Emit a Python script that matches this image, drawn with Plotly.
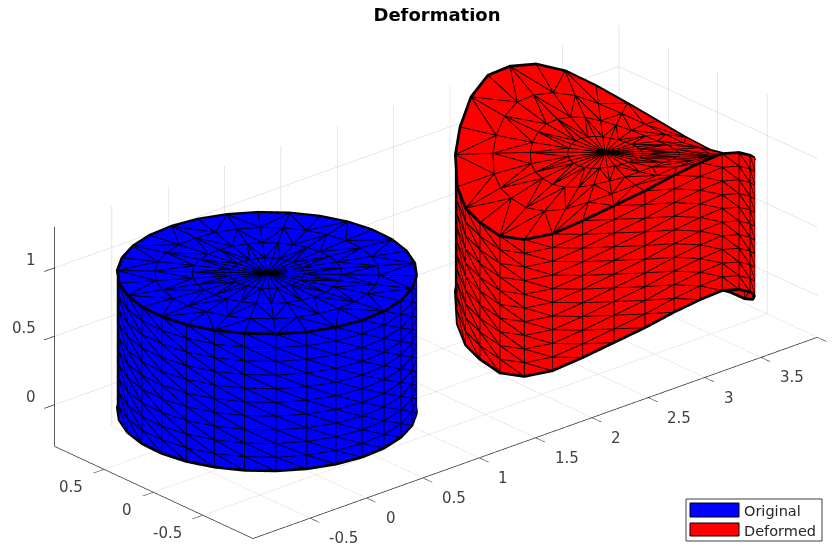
import math
import plotly.graph_objects as go

# ---- data ----
title_text = "Deformation"
legend_labels = ["Original", "Deformed"]
legend_colors = ["#0000ff", "#ff0000"]
x_ticks = [-0.5, 0, 0.5, 1, 1.5, 2, 2.5, 3, 3.5, 4]
x_tick_labels = ["-0.5", "0", "0.5", "1", "1.5", "2", "2.5", "3", "3.5", "4"]
y_ticks = [-0.5, 0, 0.5]
y_tick_labels = ["-0.5", "0", "0.5"]
z_ticks = [0, 0.5, 1]
z_tick_labels = ["0", "0.5", "1"]
x_range = [-1.0075, 4]
y_range = [-1.0085, 1]
z_range = [-0.305, 1.30]

z_levels = [0, 0.1, 0.2, 0.3, 0.4, 0.5, 0.6, 0.7, 0.8, 0.9, 1.0]
ring_radii = [0.25, 0.5, 0.75, 1.0]
side_angles_deg = [-43.8, -31.8, -19.8, -7.8, 4.2, 16.2, 28.2, 40.2, 52.2, 64.2,
                   76.2, 88.2, 100.2, 112.2, 124.2, 136.2, 148.2, 160.2, 172.2, 184.2,
                   196.2, 208.2, 220.2, 232.2, 244.2, 256.2, 268.2, 280.2, 292.2, 304.2]
# vertical displacement of the deformed body's rim, per rim vertex
rim_lift = [-0.02, -0.146, -0.23, -0.265, -0.30, -0.265, -0.186, -0.08, 0.044, 0.168,
            0.252, 0.287, 0.287, 0.208, 0.075, -0.035, -0.177, -0.243, -0.265, -0.292,
            -0.26, -0.177, -0.057, 0.057, 0.15, 0.23, 0.27, 0.27, 0.20, 0.093]
deformed_x_offset = 3.0

view_dir = (-0.602, -0.687, 0.407)
view_right = (0.752, -0.659, 0.0)
view_dist = 5.0
view_pan = -0.0076
scene_scale = 0.5676
line_lift = 0.012  # edges sit this far towards the viewer so the faces do not hide them
W, H, PAD = 852, 538, 8  # the page adds an 8 px body margin; the last "4" runs past the window edge


def body(x0, lifts):
    n = len(side_angles_deg)

    def vertex(r, k, z):
        a = math.radians(side_angles_deg[k % n])
        return (x0 + r * math.cos(a), r * math.sin(a), z + lifts[k % n] * r * r)

    X, Y, Z, I, J, K = [], [], [], [], [], []
    lx, ly, lz = [], [], []
    rx, ry, rz = [], [], []
    lift = [d * line_lift for d in view_dir]

    def add(x, y, z):
        X.append(x); Y.append(y); Z.append(z)
        return len(X) - 1

    def seg(a, b):
        lx.extend([X[a] + lift[0], X[b] + lift[0], None])
        ly.extend([Y[a] + lift[1], Y[b] + lift[1], None])
        lz.extend([Z[a] + lift[2], Z[b] + lift[2], None])

    def tri(a, b, c):
        I.append(a); J.append(b); K.append(c)
        seg(a, b); seg(b, c); seg(c, a)

    top = z_levels[-1]
    centre = add(x0, 0.0, top)
    rings = []
    for r in ring_radii:
        rings.append([add(*vertex(r, k, top)) for k in range(n)])
    for k in range(n):
        tri(centre, rings[0][k], rings[0][(k + 1) % n])
    for a in range(len(rings) - 1):
        inner, outer = rings[a], rings[a + 1]
        for k in range(n):
            k2 = (k + 1) % n
            if k % 2 == 0:
                tri(inner[k], outer[k], outer[k2]); tri(inner[k], outer[k2], inner[k2])
            else:
                tri(inner[k], outer[k], inner[k2]); tri(inner[k2], outer[k], outer[k2])

    cols = [[add(*vertex(1.0, k, z)) for z in z_levels] for k in range(n)]
    for k in range(n):
        k2 = (k + 1) % n
        for m in range(len(z_levels) - 1):
            a, b = cols[k][m], cols[k][m + 1]
            c, d = cols[k2][m], cols[k2][m + 1]
            tri(b, a, c); tri(b, c, d)
    for z in (z_levels[0], top):
        for k in range(n + 1):
            x, y, zz = vertex(1.0, k, z)
            rx.append(x + lift[0]); ry.append(y + lift[1]); rz.append(zz + lift[2])
        rx.append(None); ry.append(None); rz.append(None)
    return X, Y, Z, I, J, K, lx, ly, lz, rx, ry, rz


fig = go.Figure()
bodies = [(0.0, [0.0] * len(rim_lift), legend_colors[0], legend_labels[0]),
          (deformed_x_offset, rim_lift, legend_colors[1], legend_labels[1])]
for x0, lifts, col, name in bodies:
    X, Y, Z, I, J, K, lx, ly, lz, rx, ry, rz = body(x0, lifts)
    fig.add_trace(go.Mesh3d(x=X, y=Y, z=Z, i=I, j=J, k=K, color=col, name=name, flatshading=True,
                            lighting=dict(ambient=1, diffuse=0, specular=0, roughness=1, fresnel=0),
                            hoverinfo="skip", showscale=False))
    fig.add_trace(go.Scatter3d(x=lx, y=ly, z=lz, mode="lines", line=dict(color="black", width=1.8),
                               hoverinfo="skip", showlegend=False))
    fig.add_trace(go.Scatter3d(x=rx, y=ry, z=rz, mode="lines", line=dict(color="black", width=5.5),
                               hoverinfo="skip", showlegend=False))


def axis(rng, ticks, labels):
    return dict(range=rng, tickmode="array", tickvals=ticks, ticktext=labels, title=dict(text=""),
                showbackground=False, showgrid=True, gridcolor="#cfcfcf", gridwidth=1,
                showline=True, linecolor="#262626", linewidth=1.5, ticks="outside", ticklen=14,
                tickcolor="#262626", tickwidth=1.5, zeroline=False, showspikes=False, tickangle=0,
                showticklabels=False)


def tick_label(x, y, z, text, xanchor, xshift, yshift):
    return dict(x=x, y=y, z=z, text=text, showarrow=False, xanchor=xanchor, yanchor="middle",
                xshift=xshift, yshift=yshift, font=dict(family="DejaVu Sans", size=15, color="#404040"))


def px(v):
    return (v - PAD) / W


def py(v):
    return 1 - (v - PAD) / H


tick_annotations = (
    [tick_label(v, y_range[0], z_range[0], t, "left", 17, -20) for v, t in zip(x_ticks, x_tick_labels)]
    + [tick_label(x_range[0], v, z_range[0], t, "right", -19, -18) for v, t in zip(y_ticks, y_tick_labels)]
    + [tick_label(x_range[0], y_range[1], v, t, "right", -17, 8) for v, t in zip(z_ticks, z_tick_labels)]
)

spans = [x_range[1] - x_range[0], y_range[1] - y_range[0], z_range[1] - z_range[0]]
pan = [c * view_pan for c in view_right]
fig.update_layout(
    width=W, height=H, margin=dict(l=0, r=0, t=0, b=0), paper_bgcolor="white", showlegend=False,
    title=dict(text="<b>" + title_text + "</b>", x=px(437), xanchor="center", y=py(15), yanchor="middle",
               font=dict(family="DejaVu Sans", size=18, color="black")),
    scene=dict(
        domain=dict(x=[0, 1], y=[0, 0.981]),
        xaxis=axis(x_range, x_ticks, x_tick_labels),
        yaxis=axis(y_range, y_ticks, y_tick_labels),
        zaxis=axis(z_range, z_ticks, z_tick_labels),
        aspectmode="manual",
        aspectratio=dict(x=spans[0] * scene_scale, y=spans[1] * scene_scale, z=spans[2] * scene_scale),
        camera=dict(projection=dict(type="orthographic"), up=dict(x=0, y=0, z=1),
                    center=dict(x=pan[0], y=pan[1], z=pan[2]),
                    eye=dict(x=view_dir[0] * view_dist + pan[0], y=view_dir[1] * view_dist + pan[1],
                             z=view_dir[2] * view_dist + pan[2])),
        annotations=tick_annotations,
    ),
    shapes=[
        dict(type="rect", xref="paper", yref="paper", x0=px(686), x1=px(822), y0=py(541), y1=py(499),
             line=dict(color="#404040", width=1), fillcolor="white"),
        dict(type="rect", xref="paper", yref="paper", x0=px(690), x1=px(739), y0=py(517), y1=py(503),
             line=dict(color="black", width=1), fillcolor=legend_colors[0]),
        dict(type="rect", xref="paper", yref="paper", x0=px(690), x1=px(739), y0=py(536), y1=py(523),
             line=dict(color="black", width=1), fillcolor=legend_colors[1]),
    ],
    annotations=[
        dict(text=legend_labels[0], xref="paper", yref="paper", x=px(742), y=py(511), xanchor="left",
             yanchor="middle", showarrow=False, font=dict(family="DejaVu Sans", size=14.5, color="#262626")),
        dict(text=legend_labels[1], xref="paper", yref="paper", x=px(742), y=py(531), xanchor="left",
             yanchor="middle", showarrow=False, font=dict(family="DejaVu Sans", size=14.5, color="#262626")),
    ],
)
fig.write_html("out.html")
